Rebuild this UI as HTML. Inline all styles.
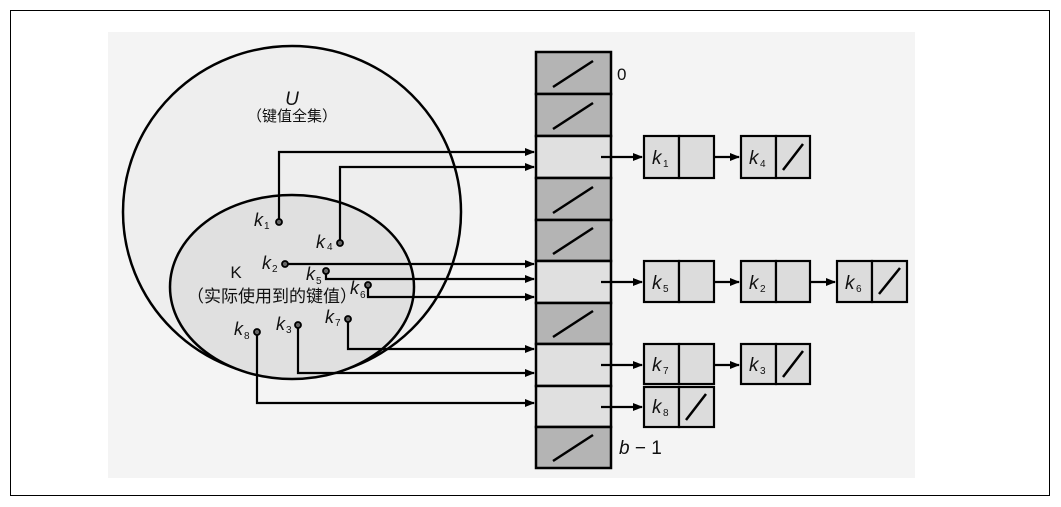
<!DOCTYPE html>
<html><head><meta charset="utf-8"><style>
html,body{margin:0;padding:0;background:#fff;}
svg{display:block;}
text{font-family:"Liberation Sans","Noto Sans CJK SC",sans-serif;fill:#111;}
.i{font-style:italic;}
</style></head><body>
<svg width="1061" height="507" viewBox="0 0 1061 507" xmlns="http://www.w3.org/2000/svg">
<defs>
<marker id="a" markerWidth="10" markerHeight="8" refX="9" refY="4" orient="auto" markerUnits="userSpaceOnUse"><path d="M0,0 L10,4 L0,8 Z" fill="#000"/></marker>
</defs>
<rect x="10.5" y="10.5" width="1039" height="485" fill="#fff" stroke="#000" stroke-width="1"/>
<rect x="108" y="32" width="807" height="446" fill="#f4f4f4"/>
<ellipse cx="292" cy="212" rx="169" ry="166" fill="#eeeeee" stroke="#000" stroke-width="2.5"/>
<ellipse cx="292" cy="287" rx="122" ry="92" fill="#e0e0e0" stroke="#000" stroke-width="2.5"/>
<text x="292" y="105" text-anchor="middle" font-size="19" class="i">U</text>
<text x="292" y="121" text-anchor="middle" font-size="15">（键值全集）</text>
<text x="236" y="278" text-anchor="middle" font-size="17">K</text>
<text x="272" y="302" text-anchor="middle" font-size="17">（实际使用到的键值）</text>
<g font-size="18">
<text x="254" y="226" class="i">k</text><text x="264" y="229" font-size="10">1</text>
<text x="316" y="248" class="i">k</text><text x="327" y="250" font-size="10">4</text>
<text x="262" y="269" class="i">k</text><text x="272" y="272" font-size="10">2</text>
<text x="306" y="280" class="i">k</text><text x="316" y="284" font-size="10">5</text>
<text x="350" y="294" class="i">k</text><text x="360" y="298" font-size="10">6</text>
<text x="325" y="323" class="i">k</text><text x="335" y="326" font-size="10">7</text>
<text x="276" y="330" class="i">k</text><text x="286" y="333" font-size="10">3</text>
<text x="234" y="335" class="i">k</text><text x="244" y="339" font-size="10">8</text>
</g>
<g stroke="#000" stroke-width="2.5">
<rect x="536" y="52" width="75" height="42" fill="#b4b4b4"/>
<rect x="536" y="94" width="75" height="42" fill="#b4b4b4"/>
<rect x="536" y="136" width="75" height="42" fill="#e0e0e0"/>
<rect x="536" y="178" width="75" height="42" fill="#b4b4b4"/>
<rect x="536" y="220" width="75" height="41" fill="#b4b4b4"/>
<rect x="536" y="261" width="75" height="42" fill="#e0e0e0"/>
<rect x="536" y="303" width="75" height="41" fill="#b4b4b4"/>
<rect x="536" y="344" width="75" height="42" fill="#e0e0e0"/>
<rect x="536" y="386" width="75" height="41" fill="#e0e0e0"/>
<rect x="536" y="427" width="75" height="41" fill="#b4b4b4"/>
</g>
<g stroke="#000" stroke-width="2.5">
<line x1="553" y1="87" x2="593" y2="61"/>
<line x1="553" y1="129" x2="593" y2="103"/>
<line x1="553" y1="213" x2="593" y2="187"/>
<line x1="553" y1="254" x2="593" y2="228"/>
<line x1="553" y1="337" x2="593" y2="311"/>
<line x1="553" y1="461" x2="593" y2="435"/>
</g>
<text x="617" y="80" font-size="17">0</text>
<text x="619" y="454" font-size="19"><tspan class="i">b</tspan> − 1</text>
<g stroke="#000" stroke-width="2.2" fill="none">
<polyline points="279,221 279,152 534,152" marker-end="url(#a)"/>
<polyline points="340,243 340,167 534,167" marker-end="url(#a)"/>
<polyline points="285,264 534,264" marker-end="url(#a)"/>
<polyline points="326,271 326,279 534,279" marker-end="url(#a)"/>
<polyline points="368,285 368,297 534,297" marker-end="url(#a)"/>
<polyline points="348,319 348,349 534,349" marker-end="url(#a)"/>
<polyline points="298,325 298,373 534,373" marker-end="url(#a)"/>
<polyline points="257,332 257,403 534,403" marker-end="url(#a)"/>
<line x1="601" y1="157" x2="642" y2="157" marker-end="url(#a)"/>
<line x1="601" y1="282" x2="642" y2="282" marker-end="url(#a)"/>
<line x1="601" y1="365" x2="642" y2="365" marker-end="url(#a)"/>
<line x1="601" y1="407" x2="642" y2="407" marker-end="url(#a)"/>
<line x1="700" y1="157" x2="739" y2="157" marker-end="url(#a)"/>
<line x1="700" y1="282" x2="739" y2="282" marker-end="url(#a)"/>
<line x1="797" y1="282" x2="835" y2="282" marker-end="url(#a)"/>
<line x1="700" y1="365" x2="739" y2="365" marker-end="url(#a)"/>
</g>
<g fill="#666" stroke="#000" stroke-width="1.8">
<circle cx="279" cy="222" r="3"/><circle cx="340" cy="243" r="3"/>
<circle cx="285" cy="264" r="3"/><circle cx="326" cy="271" r="3"/>
<circle cx="368" cy="285" r="3"/><circle cx="348" cy="319" r="3"/>
<circle cx="298" cy="325" r="3"/><circle cx="257" cy="332" r="3"/>
</g>
<g stroke="#000" stroke-width="2.2" fill="#dcdcdc">
<rect x="644" y="136" width="35" height="42"/><rect x="679" y="136" width="35" height="42"/>
<rect x="741" y="136" width="35" height="42"/><rect x="776" y="136" width="34" height="42"/>
<rect x="644" y="261" width="35" height="41"/><rect x="679" y="261" width="35" height="41"/>
<rect x="741" y="261" width="35" height="41"/><rect x="776" y="261" width="34" height="41"/>
<rect x="837" y="261" width="35" height="41"/><rect x="872" y="261" width="35" height="41"/>
<rect x="644" y="344" width="35" height="40"/><rect x="679" y="344" width="35" height="40"/>
<rect x="741" y="344" width="35" height="40"/><rect x="776" y="344" width="34" height="40"/>
<rect x="644" y="387" width="35" height="40"/><rect x="679" y="387" width="35" height="40"/>
</g>
<g stroke="#000" stroke-width="2.5">
<line x1="783" y1="170" x2="803" y2="144"/>
<line x1="879" y1="294" x2="900" y2="268"/>
<line x1="783" y1="377" x2="803" y2="351"/>
<line x1="686" y1="420" x2="706" y2="394"/>
</g>
<g font-size="19">
<text x="652" y="164" class="i">k</text><text x="663" y="167" font-size="10">1</text>
<text x="749" y="164" class="i">k</text><text x="760" y="167" font-size="10">4</text>
<text x="652" y="289" class="i">k</text><text x="663" y="292" font-size="10">5</text>
<text x="749" y="289" class="i">k</text><text x="760" y="292" font-size="10">2</text>
<text x="845" y="289" class="i">k</text><text x="856" y="292" font-size="10">6</text>
<text x="652" y="371" class="i">k</text><text x="663" y="374" font-size="10">7</text>
<text x="749" y="371" class="i">k</text><text x="760" y="374" font-size="10">3</text>
<text x="652" y="413" class="i">k</text><text x="663" y="416" font-size="10">8</text>
</g>
</svg>
</body></html>
